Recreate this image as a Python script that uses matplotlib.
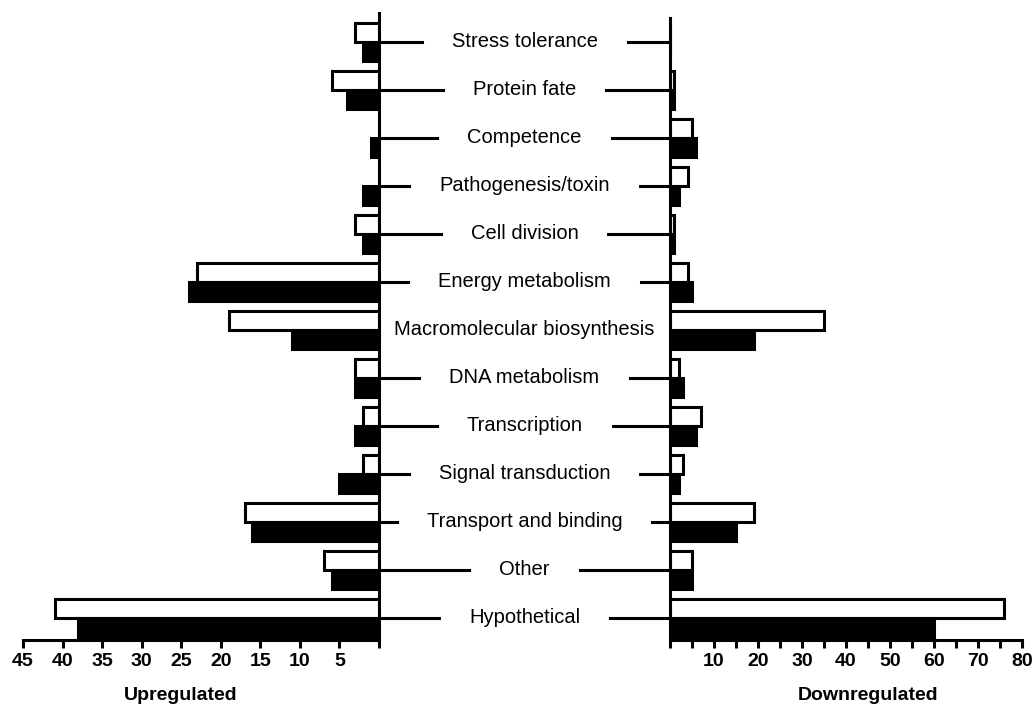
import matplotlib
matplotlib.use("Agg")
import matplotlib.pyplot as plt
from matplotlib.transforms import blended_transform_factory
from matplotlib.lines import Line2D
import numpy as np

plt.rcParams['font.family'] = ['Liberation Sans', 'DejaVu Sans']

categories = ["Stress tolerance", "Protein fate", "Competence", "Pathogenesis/toxin",
              "Cell division", "Energy metabolism", "Macromolecular biosynthesis",
              "DNA metabolism", "Transcription", "Signal transduction",
              "Transport and binding", "Other", "Hypothetical"]

# upregulated (left panel): open and filled bars
up_open = [3, 6, 0, 0, 3, 23, 19, 3, 2, 2, 17, 7, 41]
up_filled = [2, 4, 1, 2, 2, 24, 11, 3, 3, 5, 16, 6, 38]

# downregulated (right panel)
down_open = [0, 1, 5, 4, 1, 4, 35, 2, 7, 3, 19, 5, 76]
down_filled = [0, 1, 6, 2, 1, 5, 19, 3, 6, 2, 15, 5, 60]

up_ticks = list(range(0, 50, 5))
up_labels = [""] + [str(v) for v in up_ticks[1:]]
down_ticks = list(range(0, 85, 5))
down_labels = [str(v) if v % 10 == 0 and v > 0 else "" for v in down_ticks]

W, H = 1035, 705
fig = plt.figure(figsize=(W / 100, H / 100), dpi=100)
ax_l = fig.add_axes([23 / W, 65 / H, (379 - 23) / W, (692 - 65) / H])
ax_r = fig.add_axes([670 / W, 65 / H, (1022 - 670) / W, (687 - 65) / H])

n = len(categories)
ypos = np.arange(n)[::-1]
bh = 0.4
lw = 2.2

ax_l.barh(ypos + bh / 2, up_open, height=bh, color="white", edgecolor="black", linewidth=lw)
ax_l.barh(ypos - bh / 2, up_filled, height=bh, color="black", edgecolor="black", linewidth=lw)
ax_r.barh(ypos + bh / 2, down_open, height=bh, color="white", edgecolor="black", linewidth=lw)
ax_r.barh(ypos - bh / 2, down_filled, height=bh, color="black", edgecolor="black", linewidth=lw)

ax_l.set_xlim(45, 0)
ax_r.set_xlim(0, 80)
ax_l.set_ylim(-0.46, 12.6)
ax_r.set_ylim(-0.46, 12.5)

for ax in (ax_l, ax_r):
    for s in ax.spines.values():
        s.set_linewidth(lw)
    ax.spines["top"].set_visible(False)
    ax.set_yticks([])
    ax.tick_params(axis="x", direction="out", length=6, width=lw, pad=3)
    ax.patch.set_alpha(0)

ax_l.spines["left"].set_visible(False)
ax_r.spines["right"].set_visible(False)

ax_l.set_xticks(up_ticks)
ax_l.set_xticklabels(up_labels, fontsize=14, fontweight="bold")
ax_r.set_xticks(down_ticks)
ax_r.set_xticklabels(down_labels, fontsize=14, fontweight="bold")

ax_l.set_xlabel("Upregulated", fontsize=14, fontweight="bold")
ax_r.set_xlabel("Downregulated", fontsize=14, fontweight="bold")
ax_l.xaxis.set_label_coords(0.444, -0.075)
ax_r.xaxis.set_label_coords(0.5625, -0.0756)

# category labels in the middle
x_mid = (379 + 670) / 2 / W
trans = blended_transform_factory(fig.transFigure, ax_l.transData)
texts = []
for name, y in zip(categories, ypos):
    t = fig.text(x_mid, y, name, transform=trans, ha="center", va="center", fontsize=14.5)
    texts.append((t, y))

# connector lines from axes to labels
fig.canvas.draw()
renderer = fig.canvas.get_renderer()
inv = fig.transFigure.inverted()
gap = 30
for t, y in texts:
    bb = t.get_window_extent(renderer)
    xl0, yy = ax_l.transData.transform((0, y))
    xr0, _ = ax_r.transData.transform((0, y))
    x_end_l = bb.x0 - gap
    x_end_r = bb.x1 + gap
    if x_end_l > xl0:
        p0 = inv.transform((xl0, yy))
        p1 = inv.transform((x_end_l, yy))
        fig.add_artist(Line2D([p0[0], p1[0]], [p0[1], p1[1]], color="black", linewidth=lw,
                              transform=fig.transFigure))
    if x_end_r < xr0:
        p0 = inv.transform((x_end_r, yy))
        p1 = inv.transform((xr0, yy))
        fig.add_artist(Line2D([p0[0], p1[0]], [p0[1], p1[1]], color="black", linewidth=lw,
                              transform=fig.transFigure))

fig.savefig("out.png", dpi=100, facecolor="white")
